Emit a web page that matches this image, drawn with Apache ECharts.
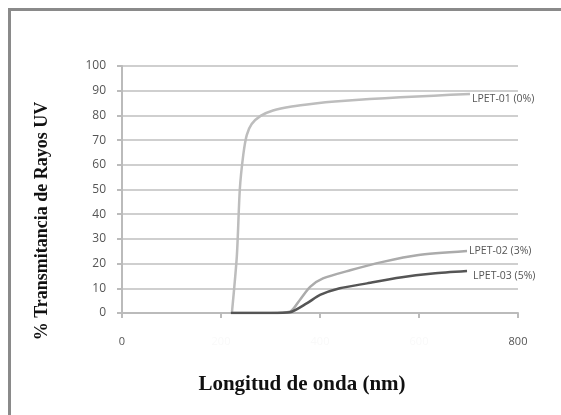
<!DOCTYPE html>
<html><head><meta charset="utf-8">
<script src="https://cdn.jsdelivr.net/npm/echarts@6/dist/echarts.min.js"></script>
<style>html,body{margin:0;padding:0;background:#fff}#c{width:561px;height:415px}</style>
</head><body><div id="c"></div>
<script>
var seriesNames = ['LPET-01 (0%)', 'LPET-02 (3%)', 'LPET-03 (5%)'];
var wl01 = [222, 232, 238, 245, 252, 262, 280, 305, 343, 390, 430, 500, 562, 630, 703];
var t01  = [0, 23, 50, 64, 72, 76.5, 79.8, 82, 83.6, 84.8, 85.6, 86.6, 87.3, 88, 88.7];
var wl02 = [220, 300, 339, 360, 380, 406, 461, 527, 596, 697];
var t02  = [0, 0, 0.5, 5.5, 10.6, 14, 17.3, 20.7, 23.4, 25.1];
var wl03 = [220, 300, 339, 374, 400, 440, 495, 562, 628, 697];
var t03  = [0, 0, 0.3, 4, 7.3, 10, 12, 14.4, 16, 17];
var xTicks = [0, 200, 400, 600, 800];
var yTicks = [0, 10, 20, 30, 40, 50, 60, 70, 80, 90, 100];
var xTitle = 'Longitud de onda (nm)';
var yTitle = '% Transmitancia de Rayos UV';

function pairs(xs, ys){ return xs.map(function(x,i){ return [x, ys[i]]; }); }

var chart = echarts.init(document.getElementById('c'));
var colors = ['#bdbdbd', '#ababab', '#555555'];
var lbl = {show:true, formatter:'{a}', color:'#555', fontFamily:'Open Sans', fontSize:10.5, distance:2};
chart.setOption({
  animation: false,
  graphic: [
    {type:'rect', shape:{x:8, y:8, width:553, height:3}, style:{fill:'#8a8a8a'}},
    {type:'rect', shape:{x:8, y:8, width:3, height:407}, style:{fill:'#8a8a8a'}},
    {type:'text', x:302, y:385, style:{text:xTitle, fontFamily:'Liberation Serif', fontWeight:'bold', fontSize:21, fill:'#111', align:'center', verticalAlign:'middle'}},
    {type:'text', x:42, y:221, rotation:Math.PI/2, style:{text:yTitle, fontFamily:'Liberation Serif', fontWeight:'bold', fontSize:18, fill:'#111', align:'center', verticalAlign:'middle'}}
  ],
  grid: {left:122, right:43, top:66, bottom:102, containLabel:false},
  xAxis: {
    type:'value', min:xTicks[0], max:xTicks[xTicks.length-1], interval:200,
    axisLine:{lineStyle:{color:'#bbbbbb', width:2}},
    axisTick:{show:true, length:5, lineStyle:{color:'#bbbbbb', width:2}},
    axisLabel:{margin:23, fontFamily:'Open Sans', fontSize:11,
      color:function(v){ return (v==0||v==800)?'#555':'#f9f9f9'; }},
    splitLine:{show:false}
  },
  yAxis: {
    type:'value', min:yTicks[0], max:yTicks[yTicks.length-1], interval:10,
    axisLine:{show:true, lineStyle:{color:'#bbbbbb', width:2}},
    axisTick:{show:true, length:5, lineStyle:{color:'#bbbbbb', width:2}},
    axisLabel:{margin:16, fontFamily:'Open Sans', fontSize:12, color:'#555'},
    splitLine:{show:true, lineStyle:{color:'#cfcfcf', width:2}}
  },
  series: [
    {name:seriesNames[0], type:'line', data:pairs(wl01,t01), showSymbol:false, smooth:0.25,
     lineStyle:{color:colors[0], width:2.5}, z:3,
     endLabel:Object.assign({}, lbl, {offset:[0,5]})},
    {name:seriesNames[1], type:'line', data:pairs(wl02,t02), showSymbol:false, smooth:0.25,
     lineStyle:{color:colors[1], width:2.5}, z:4,
     endLabel:Object.assign({}, lbl)},
    {name:seriesNames[2], type:'line', data:pairs(wl03,t03), showSymbol:false, smooth:0.25,
     lineStyle:{color:colors[2], width:2.5}, z:5,
     endLabel:Object.assign({}, lbl, {distance:6, offset:[0,5]})}
  ]
});
</script></body></html>
